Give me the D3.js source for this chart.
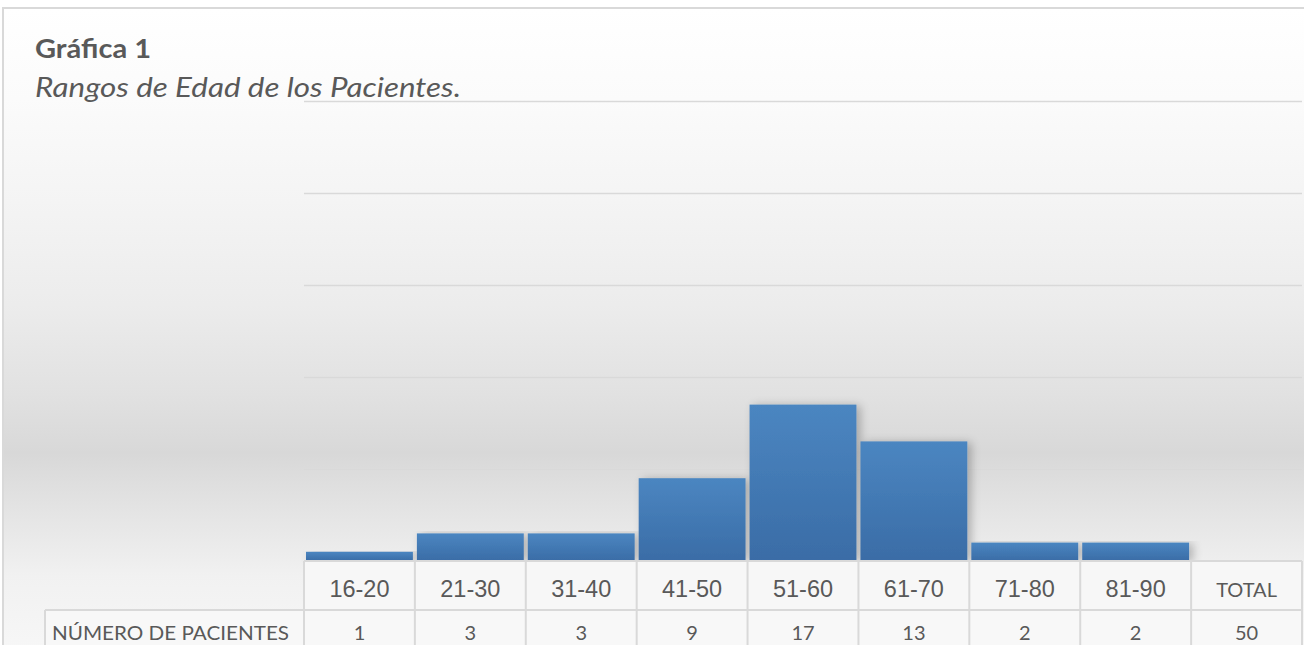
<!DOCTYPE html>
<html>
<head>
<meta charset="utf-8">
<script src="https://cdn.jsdelivr.net/npm/d3@7"></script>
<style>
  html, body { margin: 0; padding: 0; background: #fff; }
  svg { display: block; }
</style>
</head>
<body>
<div id="chart"></div>
<script>
// data
const ageRanges = ['16-20', '21-30', '31-40', '41-50', '51-60', '61-70', '71-80', '81-90'];
const patients = [1, 3, 3, 9, 17, 13, 2, 2];
const totalLabel = 'TOTAL';
const rowLabel = 'NÚMERO DE PACIENTES';
const yTicks = [0, 10, 20, 30, 40, 50];

const W = 1304, H = 645;
const plot = {left: 304, right: 1302, top: 101, bottom: 561};
const tbl = {labelLeft: 45, rowTop: 561, rowMid: 610, rowBottom: 660};

const svg = d3.select('#chart').append('svg')
    .attr('width', W).attr('height', H);

const defs = svg.append('defs');

// background gradient (white -> grey band -> light)
const bg = defs.append('linearGradient').attr('id', 'bg')
    .attr('x1', 0).attr('y1', 0).attr('x2', 0).attr('y2', 1);
[[0, '#ffffff'], [0.14, '#fbfbfb'], [0.3, '#f4f4f4'], [0.46, '#ececec'], [0.6, '#e1e1e1'],
 [0.69, '#d8d8d8'], [0.78, '#e4e4e4'], [0.88, '#f1f1f1'], [1, '#f7f7f7']]
  .forEach(s => bg.append('stop').attr('offset', s[0]).attr('stop-color', s[1]));

const barGrad = defs.append('linearGradient').attr('id', 'bar')
    .attr('x1', 0).attr('y1', 0).attr('x2', 0).attr('y2', 1);
barGrad.append('stop').attr('offset', 0).attr('stop-color', '#4b86c1');
barGrad.append('stop').attr('offset', 1).attr('stop-color', '#3a6ca6');

const shadow = defs.append('filter').attr('id', 'shadow')
    .attr('x', '-10%').attr('y', '-10%').attr('width', '130%').attr('height', '130%');
shadow.append('feGaussianBlur').attr('in', 'SourceAlpha').attr('stdDeviation', 5).attr('result', 'blur');
shadow.append('feOffset').attr('in', 'blur').attr('dx', 4).attr('dy', 1).attr('result', 'off');
shadow.append('feComponentTransfer').attr('in', 'off').attr('result', 'soft')
  .append('feFuncA').attr('type', 'linear').attr('slope', 0.25);
const merge = shadow.append('feMerge');
merge.append('feMergeNode').attr('in', 'soft');
merge.append('feMergeNode').attr('in', 'SourceGraphic');

// frame
svg.append('rect').attr('x', 3).attr('y', 8).attr('width', W).attr('height', H)
    .attr('fill', 'url(#bg)')
    .attr('stroke', '#d9d9d9').attr('stroke-width', 2);

// title
svg.append('text').attr('x', 35).attr('y', 58)
    .style('font-family', 'Lato, sans-serif').style('font-weight', 'bold')
    .style('font-size', '27px').style('fill', '#595959')
    .attr('textLength', 116).attr('lengthAdjust', 'spacingAndGlyphs')
    .text('Gráfica 1');
svg.append('text').attr('x', 35).attr('y', 97)
    .style('font-family', 'Lato, sans-serif').style('font-style', 'italic')
    .style('font-size', '27px').style('fill', '#595959')
    .attr('textLength', 426).attr('lengthAdjust', 'spacingAndGlyphs')
    .text('Rangos de Edad de los Pacientes.');

// scales
const cols = ageRanges.concat([totalLabel]);
const x = d3.scaleBand().domain(cols).range([plot.left, plot.right]).padding(0);
const y = d3.scaleLinear().domain([0, 50]).range([plot.bottom, plot.top]);

// gridlines
const yAxis = d3.axisLeft(y).tickValues(yTicks.slice(1))
    .tickSize(-(plot.right - plot.left)).tickFormat('');
const g = svg.append('g').attr('transform', `translate(${plot.left},0)`).call(yAxis);
g.select('.domain').remove();
g.selectAll('.tick line').attr('stroke', '#d9d9d9').attr('stroke-width', 1.6);

// bars
svg.append('g').selectAll('rect')
  .data(ageRanges.map((d, i) => ({age: d, n: patients[i]})))
  .join('rect')
    .attr('x', d => x(d.age) + 2)
    .attr('y', d => y(d.n))
    .attr('width', x.bandwidth() - 4)
    .attr('height', d => y(0) - y(d.n))
    .attr('fill', 'url(#bar)')
    .attr('filter', 'url(#shadow)');

// data table
const table = svg.append('g');
const line = (x1, y1, x2, y2) => table.append('line')
    .attr('x1', x1).attr('y1', y1).attr('x2', x2).attr('y2', y2)
    .attr('stroke', '#d9d9d9').attr('stroke-width', 2);

table.append('rect').attr('x', plot.left).attr('y', tbl.rowTop)
    .attr('width', plot.right - plot.left).attr('height', tbl.rowMid - tbl.rowTop)
    .attr('fill', '#f7f7f7');
table.append('rect').attr('x', tbl.labelLeft).attr('y', tbl.rowMid)
    .attr('width', plot.right - tbl.labelLeft).attr('height', tbl.rowBottom - tbl.rowMid)
    .attr('fill', '#f8f8f8');

line(plot.left, tbl.rowTop, plot.right, tbl.rowTop);
line(tbl.labelLeft, tbl.rowMid, plot.right, tbl.rowMid);
line(tbl.labelLeft, tbl.rowMid, tbl.labelLeft, tbl.rowBottom);
cols.forEach(c => line(x(c), tbl.rowTop, x(c), tbl.rowBottom));
line(plot.right, tbl.rowTop, plot.right, tbl.rowBottom);

table.selectAll('.hdr').data(cols).join('text')
    .attr('class', 'hdr')
    .attr('x', d => x(d) + x.bandwidth() / 2)
    .attr('y', 597)
    .attr('text-anchor', 'middle')
    .style('font-family', d => d === totalLabel ? 'Lato, sans-serif' : '"Liberation Sans", Arial, sans-serif')
    .style('font-size', d => d === totalLabel ? '20px' : '23.5px')
    .style('fill', '#595959')
    .text(d => d);

const values = patients.concat([d3.sum(patients)]);
table.selectAll('.val').data(cols).join('text')
    .attr('class', 'val')
    .attr('x', d => x(d) + x.bandwidth() / 2)
    .attr('y', 640)
    .attr('text-anchor', 'middle')
    .style('font-family', 'Lato, sans-serif')
    .style('font-size', '20px')
    .style('fill', '#595959')
    .text((d, i) => values[i]);

table.append('text').attr('x', 52).attr('y', 640)
    .style('font-family', 'Lato, sans-serif')
    .style('font-size', '20px').style('fill', '#595959')
    .attr('textLength', 237).attr('lengthAdjust', 'spacingAndGlyphs')
    .text(rowLabel);
</script>
</body>
</html>
